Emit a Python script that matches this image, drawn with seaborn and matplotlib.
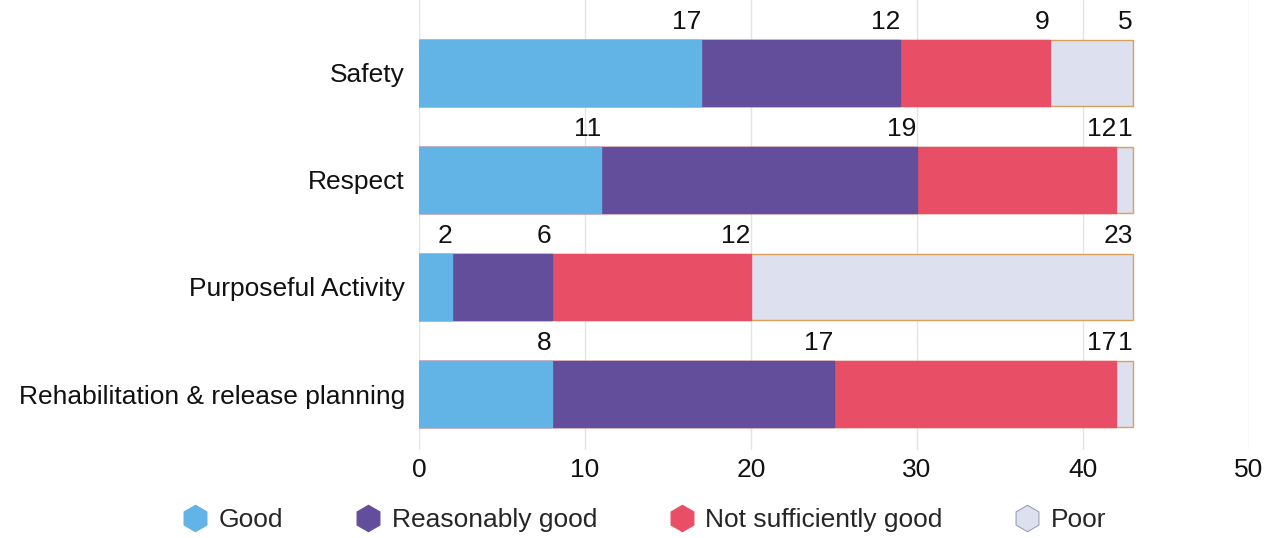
import matplotlib
matplotlib.use("Agg")
import matplotlib.pyplot as plt
from matplotlib.lines import Line2D
import numpy as np
import pandas as pd
import seaborn as sns

# Inspection outcomes by healthy-prison area
categories = ["Safety", "Respect", "Purposeful Activity", "Rehabilitation & release planning"]
ratings = ["Good", "Reasonably good", "Not sufficiently good", "Poor"]
good = [17, 11, 2, 8]
reasonably_good = [12, 19, 6, 17]
not_sufficiently_good = [9, 12, 12, 17]
poor = [5, 1, 23, 1]
x_ticks = [0, 10, 20, 30, 40, 50]

colors = {
    "Good": "#62B3E6",
    "Reasonably good": "#634E9B",
    "Not sufficiently good": "#E84F67",
    "Poor": "#DDE0EE",
}
poor_edge = "#D9A05B"
FS = 19

sns.set_theme(style="white")
plt.rcParams["font.family"] = ["Liberation Sans", "DejaVu Sans"]

values = np.array([good, reasonably_good, not_sufficiently_good, poor], dtype=float)
cum = np.cumsum(values, axis=0)

fig = plt.figure(figsize=(12.73, 5.38), dpi=100)
ax = fig.add_axes([0.329, 0.164, 0.652, 0.836])

bar_w = 0.62
# Stacked bars: draw the running totals from the largest down so each
# segment shows through behind the next
for k in range(len(ratings) - 1, -1, -1):
    df = pd.DataFrame({"area": categories, "total": cum[k]})
    edge = poor_edge if ratings[k] == "Poor" else colors[ratings[k]]
    sns.barplot(data=df, y="area", x="total", order=categories, orient="h",
                color=colors[ratings[k]], saturation=1, width=bar_w,
                edgecolor=edge, linewidth=1.0, ax=ax, zorder=2)

# Segment value labels, right-aligned at each segment's end above the bar
for i in range(len(categories)):
    for k in range(len(ratings)):
        ax.annotate(f"{int(values[k, i])}", xy=(cum[k, i], i - bar_w / 2),
                    xytext=(0, 4), textcoords="offset points",
                    ha="right", va="bottom", fontsize=FS, color="#111111")

ax.set_xlim(0, 50)
ax.set_ylim(3.52, -0.68)
ax.set_xticks(x_ticks)
ax.set_xticklabels([str(t) for t in x_ticks])
ax.set_xlabel("")
ax.set_ylabel("")
ax.xaxis.grid(True, color="#E4E4E4", linewidth=1.0, zorder=0)
ax.yaxis.grid(False)
ax.set_axisbelow(True)
for s in ax.spines.values():
    s.set_visible(False)
ax.tick_params(axis="x", length=0, pad=6, labelsize=FS, labelcolor="#111111")
ax.tick_params(axis="y", length=0, pad=10, labelsize=FS, labelcolor="#111111")

handles = [
    Line2D([0], [0], marker="h", linestyle="none", markersize=19,
           markerfacecolor=colors[r],
           markeredgecolor="#9AA0B8" if r == "Poor" else colors[r],
           markeredgewidth=0.8)
    for r in ratings
]
fig.legend(handles, ratings, loc="center", bbox_to_anchor=(0.505, 0.033),
           ncol=4, frameon=False, fontsize=FS, handletextpad=0.3,
           columnspacing=2.6, handlelength=1.2)

fig.savefig("out.png", dpi=100)
